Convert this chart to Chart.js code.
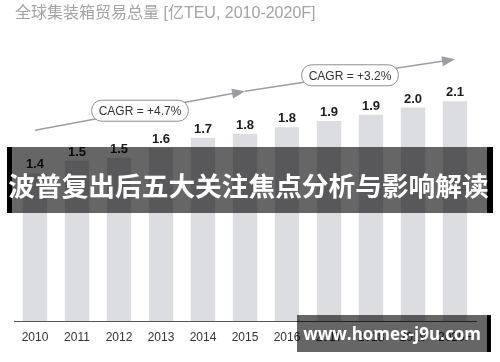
<!DOCTYPE html>
<html lang="zh">
<head>
<meta charset="UTF-8">
<title>全球集装箱贸易总量</title>
<script src="https://cdn.jsdelivr.net/npm/chart.js"></script>
<style>
    body { margin: 0; background: #ffffff; }
    .wrap { position: relative; width: 500px; height: 362px; overflow: hidden; }
    canvas { display: block; }
    .banner {
        position: absolute; left: 7px; top: 147px; width: 486px; height: 66px;
        background: rgba(0,0,0,0.6);
        border-left: 5px solid #000; border-right: 6px solid #000; box-sizing: border-box;
    }
    .banner-text {
        position: absolute; left: 0; top: 152px; width: 497px; height: 66px;
        font: 700 26.7px "Noto Sans CJK SC", sans-serif;
        line-height: 66px; text-align: center; color: #fff; white-space: nowrap;
    }
    .mark {
        position: absolute; left: 297px; top: 315px; width: 194px; height: 37px;
        background: rgba(0,0,0,0.6); border-right: 4px solid #000; box-sizing: border-box;
        font: 700 17px "Open Sans", sans-serif;
        color: #fff; line-height: 38px; text-align: center; white-space: nowrap;
    }
</style>
</head>
<body>
<div class="wrap">
    <canvas id="tradeChart" width="500" height="362"></canvas>
    <div class="banner"></div>
    <div class="banner-text">波普复出后五大关注焦点分析与影响解读</div>
    <div class="mark">www.homes-j9u.com</div>
</div>
<script>
// 年份与数值（亿TEU）
const years = ['2010', '2011', '2012', '2013', '2014', '2015', '2016', '2017', '2018', '2019', '2020F'];
const volumes = [1.41, 1.53, 1.56, 1.65, 1.75, 1.79, 1.85, 1.91, 1.97, 2.04, 2.10];
const volumeLabels = ['1.4', '1.5', '1.5', '1.6', '1.7', '1.8', '1.8', '1.9', '1.9', '2.0', '2.1'];
const chartTitle = '全球集装箱贸易总量 [亿TEU, 2010-2020F]';
// CAGR 箭头：起止年份索引和高度（数值刻度）
const cagrFrom = [0, 5];
const cagrTo = [5, 10];
const cagrStartY = [1.823, 2.195];
const cagrEndY = [2.195, 2.5];
const cagrText = ['CAGR = +4.7%', 'CAGR = +3.2%'];

const extras = {
    id: 'extras',
    afterDatasetsDraw(chart) {
        const ctx = chart.ctx;
        const x = chart.scales.x, y = chart.scales.y;

        // 柱顶数值
        const meta = chart.getDatasetMeta(0);
        ctx.save();
        ctx.fillStyle = '#1c1c1c';
        ctx.font = 'bold 13px "Liberation Sans", Arial, sans-serif';
        ctx.textAlign = 'center';
        ctx.textBaseline = 'bottom';
        meta.data.forEach((bar, i) => {
            ctx.fillText(volumeLabels[i], bar.x, bar.y - 2);
        });

        // 标题
        ctx.fillStyle = '#a3a3a3';
        ctx.font = '16px "Liberation Sans", "Noto Sans CJK SC", sans-serif';
        ctx.textAlign = 'left';
        ctx.textBaseline = 'middle';
        ctx.fillText(chartTitle, 15, 14);

        // CAGR 箭头
        for (let k = 0; k < cagrText.length; k++) {
            const x0 = x.getPixelForValue(cagrFrom[k]), y0 = y.getPixelForValue(cagrStartY[k]);
            const x1 = x.getPixelForValue(cagrTo[k]), y1 = y.getPixelForValue(cagrEndY[k]);
            const ang = Math.atan2(y1 - y0, x1 - x0);
            ctx.strokeStyle = '#9a9ea4';
            ctx.fillStyle = '#9a9ea4';
            ctx.lineWidth = 1.5;
            ctx.beginPath();
            ctx.moveTo(x0, y0);
            ctx.lineTo(x1 - 10 * Math.cos(ang), y1 - 10 * Math.sin(ang));
            ctx.stroke();
            ctx.beginPath();
            ctx.moveTo(x1, y1);
            ctx.lineTo(x1 - 13 * Math.cos(ang) + 5 * Math.sin(ang), y1 - 13 * Math.sin(ang) - 5 * Math.cos(ang));
            ctx.lineTo(x1 - 13 * Math.cos(ang) - 5 * Math.sin(ang), y1 - 13 * Math.sin(ang) + 5 * Math.cos(ang));
            ctx.closePath();
            ctx.fill();

            const mx = (x0 + x1) / 2, my = (y0 + y1) / 2;
            ctx.font = '12px "Liberation Sans", Arial, sans-serif';
            const w = ctx.measureText(cagrText[k]).width + 14, h = 21;
            ctx.beginPath();
            ctx.roundRect(mx - w / 2, my - h / 2, w, h, 10);
            ctx.fillStyle = '#ffffff';
            ctx.fill();
            ctx.strokeStyle = '#8f8f8f';
            ctx.lineWidth = 1;
            ctx.stroke();
            ctx.fillStyle = '#333333';
            ctx.textAlign = 'center';
            ctx.textBaseline = 'middle';
            ctx.fillText(cagrText[k], mx, my + 1);
        }
        ctx.restore();
    }
};

new Chart(document.getElementById('tradeChart'), {
    type: 'bar',
    data: {
        labels: years,
        datasets: [{
            data: volumes,
            backgroundColor: '#dcdde1',
            borderWidth: 0,
            categoryPercentage: 1,
            barPercentage: 0.58
        }]
    },
    options: {
        responsive: false,
        animation: false,
        layout: { padding: { top: 30, left: 14, right: 24, bottom: 0 } },
        plugins: { legend: { display: false }, tooltip: { enabled: false } },
        scales: {
            x: {
                grid: { display: false, drawTicks: false },
                border: { display: true, color: '#555555', width: 1 },
                ticks: {
                    color: '#333333', padding: 9,
                    font: { family: '"Liberation Sans", Arial, sans-serif', size: 12 }
                },
                afterFit(scale) { scale.height = 41; }
            },
            y: { display: false, min: 0, max: 2.78 }
        }
    },
    plugins: [extras]
});
</script>
</body>
</html>
